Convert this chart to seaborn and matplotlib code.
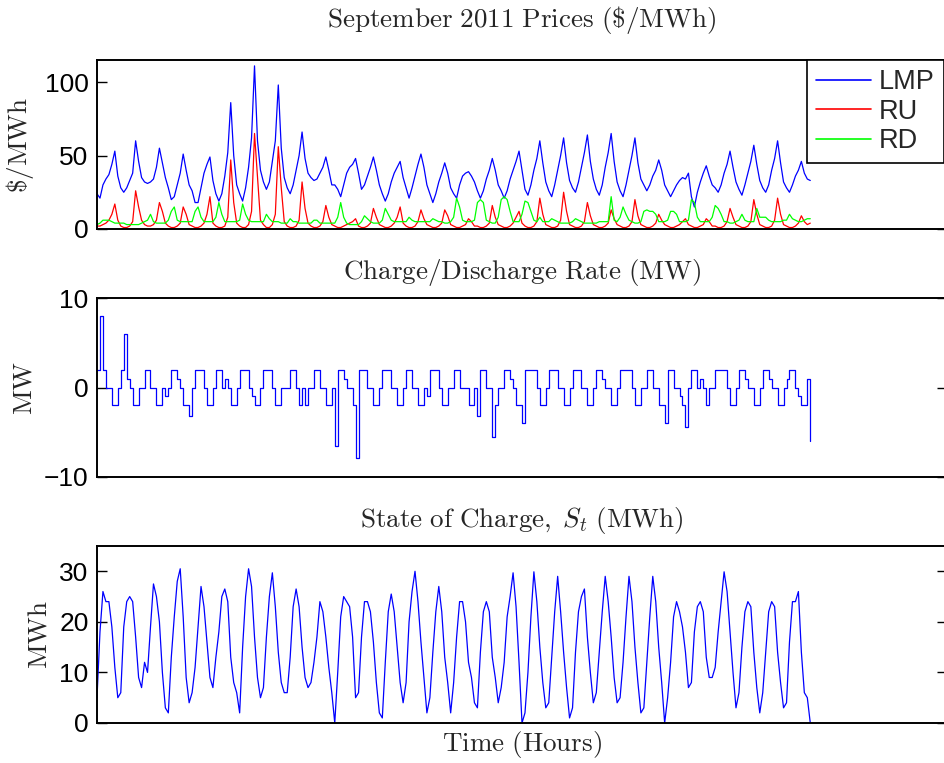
import numpy as np
import pandas as pd
import matplotlib
matplotlib.use("Agg")
import matplotlib.pyplot as plt
import seaborn as sns

# Three-hour samples over September 2011 (30 days x 8 samples + closing value at hour 720)
hours = np.arange(0, 721, 3)

lmp = [
    24, 21, 30, 34, 37, 44, 53, 36,
    28, 25, 28, 33, 38, 60, 46, 35,
    32, 31, 32, 34, 42, 55, 45, 35,
    28, 20, 22, 30, 38, 51, 40, 30,
    26, 18, 18, 28, 38, 44, 49, 33,
    24, 19, 24, 36, 52, 86, 50, 30,
    24, 19, 28, 42, 62, 111, 60, 40,
    32, 27, 32, 46, 60, 98, 55, 35,
    28, 24, 30, 40, 50, 66, 48, 38,
    35, 33, 34, 38, 42, 49, 40, 30,
    30, 27, 22, 30, 38, 42, 44, 48,
    38, 27, 30, 36, 42, 49, 40, 30,
    24, 19, 24, 32, 38, 42, 46, 35,
    28, 21, 28, 36, 44, 51, 42, 30,
    24, 18, 24, 32, 38, 45, 38, 28,
    24, 21, 30, 36, 38, 39, 36, 32,
    26, 21, 26, 34, 40, 48, 40, 30,
    26, 21, 26, 34, 40, 46, 53, 40,
    27, 23, 30, 40, 48, 60, 45, 32,
    26, 22, 30, 40, 50, 62, 45, 33,
    28, 25, 32, 42, 52, 64, 46, 34,
    27, 23, 30, 42, 52, 65, 46, 32,
    26, 22, 30, 40, 50, 62, 45, 34,
    30, 26, 30, 36, 40, 47, 40, 30,
    26, 22, 26, 30, 33, 35, 34, 38,
    22, 15, 25, 32, 38, 43, 36, 30,
    28, 25, 30, 38, 44, 53, 42, 32,
    27, 23, 30, 38, 46, 57, 44, 33,
    28, 25, 30, 40, 48, 60, 45, 32,
    28, 25, 30, 36, 40, 46, 38, 34,
    33,
]

ru = [
    2, 2, 3, 4, 6, 10, 17, 6,
    2, 1, 1, 2, 5, 26, 15, 6,
    3, 2, 2, 3, 6, 18, 12, 4,
    2, 1, 1, 2, 4, 15, 10, 3,
    2, 1, 1, 2, 4, 10, 22, 4,
    2, 1, 1, 2, 8, 47, 18, 4,
    2, 1, 1, 3, 12, 65, 35, 6,
    3, 1, 1, 3, 10, 56, 28, 5,
    2, 1, 1, 2, 6, 32, 14, 4,
    2, 1, 1, 2, 5, 16, 8, 3,
    2, 1, 1, 2, 3, 4, 5, 7,
    2, 1, 1, 2, 4, 14, 8, 3,
    2, 1, 1, 2, 4, 8, 15, 4,
    2, 1, 1, 2, 5, 13, 7, 3,
    2, 1, 1, 2, 4, 13, 9, 3,
    2, 1, 1, 2, 3, 7, 5, 2,
    2, 1, 1, 2, 4, 16, 8, 3,
    2, 1, 1, 2, 4, 8, 12, 4,
    2, 1, 1, 2, 5, 21, 10, 3,
    2, 1, 1, 2, 6, 25, 12, 3,
    2, 1, 1, 2, 5, 18, 9, 3,
    2, 1, 1, 2, 4, 13, 7, 3,
    2, 1, 1, 2, 5, 20, 9, 3,
    2, 1, 1, 2, 4, 10, 6, 3,
    2, 1, 1, 2, 3, 5, 7, 3,
    2, 1, 1, 2, 3, 7, 5, 2,
    2, 1, 1, 2, 5, 14, 8, 3,
    2, 1, 1, 2, 5, 20, 10, 3,
    2, 1, 1, 2, 6, 21, 10, 3,
    2, 1, 1, 2, 4, 9, 5, 3,
    4,
]

rd = [
    3, 4, 6, 6, 6, 5, 4, 4,
    4, 4, 3, 3, 3, 3, 3, 4,
    5, 6, 10, 5, 4, 4, 4, 4,
    6, 12, 15, 6, 5, 5, 5, 5,
    5, 12, 15, 8, 5, 5, 5, 5,
    8, 18, 10, 5, 5, 5, 5, 5,
    6, 17, 10, 6, 5, 5, 5, 5,
    5, 10, 7, 5, 5, 5, 4, 4,
    4, 7, 5, 5, 4, 4, 4, 4,
    4, 6, 6, 4, 4, 4, 4, 4,
    4, 8, 18, 8, 4, 3, 3, 3,
    3, 5, 9, 7, 5, 4, 4, 4,
    6, 14, 10, 6, 5, 5, 5, 5,
    5, 8, 6, 5, 5, 5, 5, 5,
    5, 7, 6, 5, 5, 4, 4, 5,
    8, 21, 15, 6, 5, 5, 5, 6,
    18, 20, 18, 6, 5, 4, 4, 8,
    20, 22, 20, 12, 5, 5, 5, 10,
    19, 18, 12, 6, 5, 8, 5, 5,
    5, 7, 6, 5, 4, 4, 4, 4,
    5, 7, 6, 5, 4, 4, 4, 4,
    4, 5, 5, 5, 5, 22, 6, 5,
    8, 15, 10, 6, 5, 4, 4, 5,
    12, 13, 12, 12, 10, 5, 5, 5,
    6, 12, 12, 10, 5, 5, 5, 6,
    20, 18, 8, 5, 5, 5, 5, 8,
    16, 14, 10, 5, 5, 4, 4, 5,
    6, 10, 6, 5, 5, 5, 14, 8,
    8, 8, 6, 5, 5, 5, 5, 6,
    6, 10, 7, 6, 5, 5, 6, 7,
    7,
]

rate = [
    2, 8, 2, 0, 0, -2, -2, 0,
    2, 6, 1, 0, -2, -2, 0, 0,
    2, 2, 0, 0, -2, -2, 0, -1,
    0, 2, 2, 1, 0, -2, -2, -3.2,
    0, 2, 2, 2, 0, -2, -2, 0,
    2, 2, 0, 1, 0, -2, -2, 0,
    2, 2, 2, 0, -1, -2, -2, 0,
    2, 2, 2, 0, -2, -2, 0, 0,
    0, 2, 2, 0, -2, 0, -2, 0,
    0, 2, 2, 0, 0, -2, -2, 0,
    -6.5, 2, 2, 1, 0, 0, -2, -7.9,
    2, 2, 2, 0, 0, -2, -2, 0,
    2, 2, 2, 0, 0, -2, -2, 0,
    2, 2, 0, 0, -2, -2, 0, -1,
    2, 2, 2, 0, -2, -2, 0, 0,
    2, 2, 0, 0, 0, -2, -2, 0,
    -3.2, 2, 2, 0, 0, -5.5, -2, 0,
    0, 2, 2, 1, 0, -2, -2, -4,
    2, 2, 2, 2, 0, -2, -2, 0,
    2, 2, 2, 0, 0, -2, -2, 0,
    2, 2, 2, 0, 0, -2, -2, 0,
    2, 2, 1, 0, 0, -2, -2, 0,
    2, 2, 2, 2, 0, -2, -2, 0,
    0, 2, 2, 0, 0, -2, -2, -4,
    2, 2, 0, 0, -1, -2, -4.4, 0,
    2, 2, 0, 1, 0, -2, 0, 0,
    2, 2, 2, 2, 0, -2, -2, 0,
    2, 2, 1, 0, 0, -2, -2, 0,
    2, 2, 1, 0, 0, -2, -2, 0,
    1, 2, 2, 0, -1, -2, -2, 1,
    -6,
]

soc = [
    5, 18, 26, 24, 24, 19, 11, 5,
    6, 19, 24, 25, 24, 17, 9, 7,
    12, 10, 19, 27.5, 25, 20, 10, 3,
    2, 13, 21, 28, 30.5, 21, 9, 4,
    6, 11, 19, 27, 23, 16, 9, 7,
    13, 18, 25, 26.5, 24, 13, 8, 6,
    2, 15, 25, 30.5, 27, 17, 9, 5,
    7, 17, 25, 29.7, 23, 14, 8, 6,
    6, 13, 23, 26.5, 23, 15, 9, 7,
    8, 12, 17, 24, 22, 17, 11, 6,
    0, 10, 21, 25, 24, 23, 17, 5,
    6, 17, 24, 24, 22, 16, 8, 2,
    1, 12, 22, 25.5, 22, 15, 8, 4,
    8, 20, 26, 30, 24, 16, 9, 2,
    5, 14, 22, 27, 22, 13, 8, 2,
    8, 17, 24, 24, 20, 12, 9, 4,
    3, 14, 22, 24, 22, 13, 9, 4,
    7, 12, 21, 25, 29.7, 23, 12, 0,
    2, 10, 21, 29.9, 24, 15, 8, 3,
    4, 13, 22, 29, 22, 14, 7, 1,
    3, 14, 22, 25, 26.5, 17, 10, 4,
    6, 14, 22, 29, 24, 17, 9, 4,
    5, 12, 21, 29, 24, 15, 8, 2,
    3, 12, 21, 29, 24, 15, 8, 0,
    5, 12, 21, 24, 22, 19, 14, 7,
    8, 18, 23, 24, 22, 13, 9, 9,
    11, 18, 24, 29.9, 26, 18, 10, 3,
    6, 15, 22, 24, 23, 14, 7, 2,
    6, 14, 22, 24, 23, 14, 8, 3,
    4, 16, 24, 24, 26, 14, 6, 5,
    0,
]

prices = pd.DataFrame({"hour": hours, "LMP": lmp, "RU": ru, "RD": rd})
storage = pd.DataFrame({"hour": hours, "rate": rate, "soc": soc})

sns.set_style("white")
plt.rcParams["font.family"] = ["Liberation Sans", "DejaVu Sans"]
plt.rcParams["mathtext.fontset"] = "cm"

W, H = 945, 763
fig = plt.figure(figsize=(W / 100, H / 100), dpi=100)


def panel(top_px, bottom_px, left_px=97, right_px=947):
    return fig.add_axes([left_px / W, 1 - bottom_px / H,
                         (right_px - left_px) / W, (bottom_px - top_px) / H])


ax1 = panel(60, 229)
ax2 = panel(298, 477)
ax3 = panel(546, 723)

lw = 0.9
line = dict(estimator=None, linewidth=lw)
step = dict(drawstyle="steps-post", estimator=None, linewidth=lw)
sns.lineplot(data=prices, x="hour", y="LMP", color="#0000ff", label="LMP", ax=ax1, **line)
sns.lineplot(data=prices, x="hour", y="RU", color="#ff0000", label="RU", ax=ax1, **line)
sns.lineplot(data=prices, x="hour", y="RD", color="#00ff00", label="RD", ax=ax1, **line)
sns.lineplot(data=storage, x="hour", y="rate", color="#0000ff", ax=ax2, **step)
sns.lineplot(data=storage, x="hour", y="soc", color="#0000ff", ax=ax3, **line)

tick_fs = 19
label_fs = 19.5
ax1.set_ylim(0, 115)
ax1.set_yticks([0, 50, 100])
ax2.set_ylim(-10, 10)
ax2.set_yticks([-10, 0, 10])
ax3.set_ylim(0, 35)
ax3.set_yticks([0, 10, 20, 30])

for ax in (ax1, ax2, ax3):
    ax.set_xlim(0, 858)
    ax.set_xticks([])
    ax.set_xlabel("")
    ax.tick_params(axis="y", direction="in", length=7, width=1.0, right=True,
                   left=True, labelsize=tick_fs, colors="black", pad=6)
    for side in ("left", "top", "bottom", "right"):
        ax.spines[side].set_visible(True)
        ax.spines[side].set_color("black")
        ax.spines[side].set_linewidth(1.4)

ax1.set_title(r"$\mathrm{September\ 2011\ Prices\ (\$/MWh)}$", fontsize=label_fs, pad=24)
ax2.set_title(r"$\mathrm{Charge/Discharge\ Rate\ (MW)}$", fontsize=label_fs, pad=14)
ax3.set_title(r"$\mathrm{State\ of\ Charge,}\;S_t\ \mathrm{(MWh)}$", fontsize=label_fs, pad=14)

ax1.set_ylabel(r"$\mathrm{\$/MWh}$", fontsize=label_fs)
ax2.set_ylabel(r"$\mathrm{MW}$", fontsize=label_fs)
ax3.set_ylabel(r"$\mathrm{MWh}$", fontsize=label_fs)
ax1.yaxis.set_label_coords(-0.072, 0.5)
ax2.yaxis.set_label_coords(-0.070, 0.5)
ax3.yaxis.set_label_coords(-0.052, 0.5)

ax3.set_xlabel(r"$\mathrm{Time\ (Hours)}$", fontsize=label_fs, labelpad=4)

leg = ax1.legend(loc="upper right", bbox_to_anchor=(944 / W, 1 - 60 / H),
                 bbox_transform=fig.transFigure, frameon=True, fancybox=False,
                 edgecolor="black", facecolor="white", framealpha=1,
                 fontsize=19.5, handlelength=2.0, handletextpad=0.3,
                 labelspacing=0.12, borderpad=0.35, borderaxespad=0)
leg.get_frame().set_linewidth(1.2)
for handle in leg.get_lines():
    handle.set_linewidth(1.2)

fig.savefig("out.png", dpi=100)
